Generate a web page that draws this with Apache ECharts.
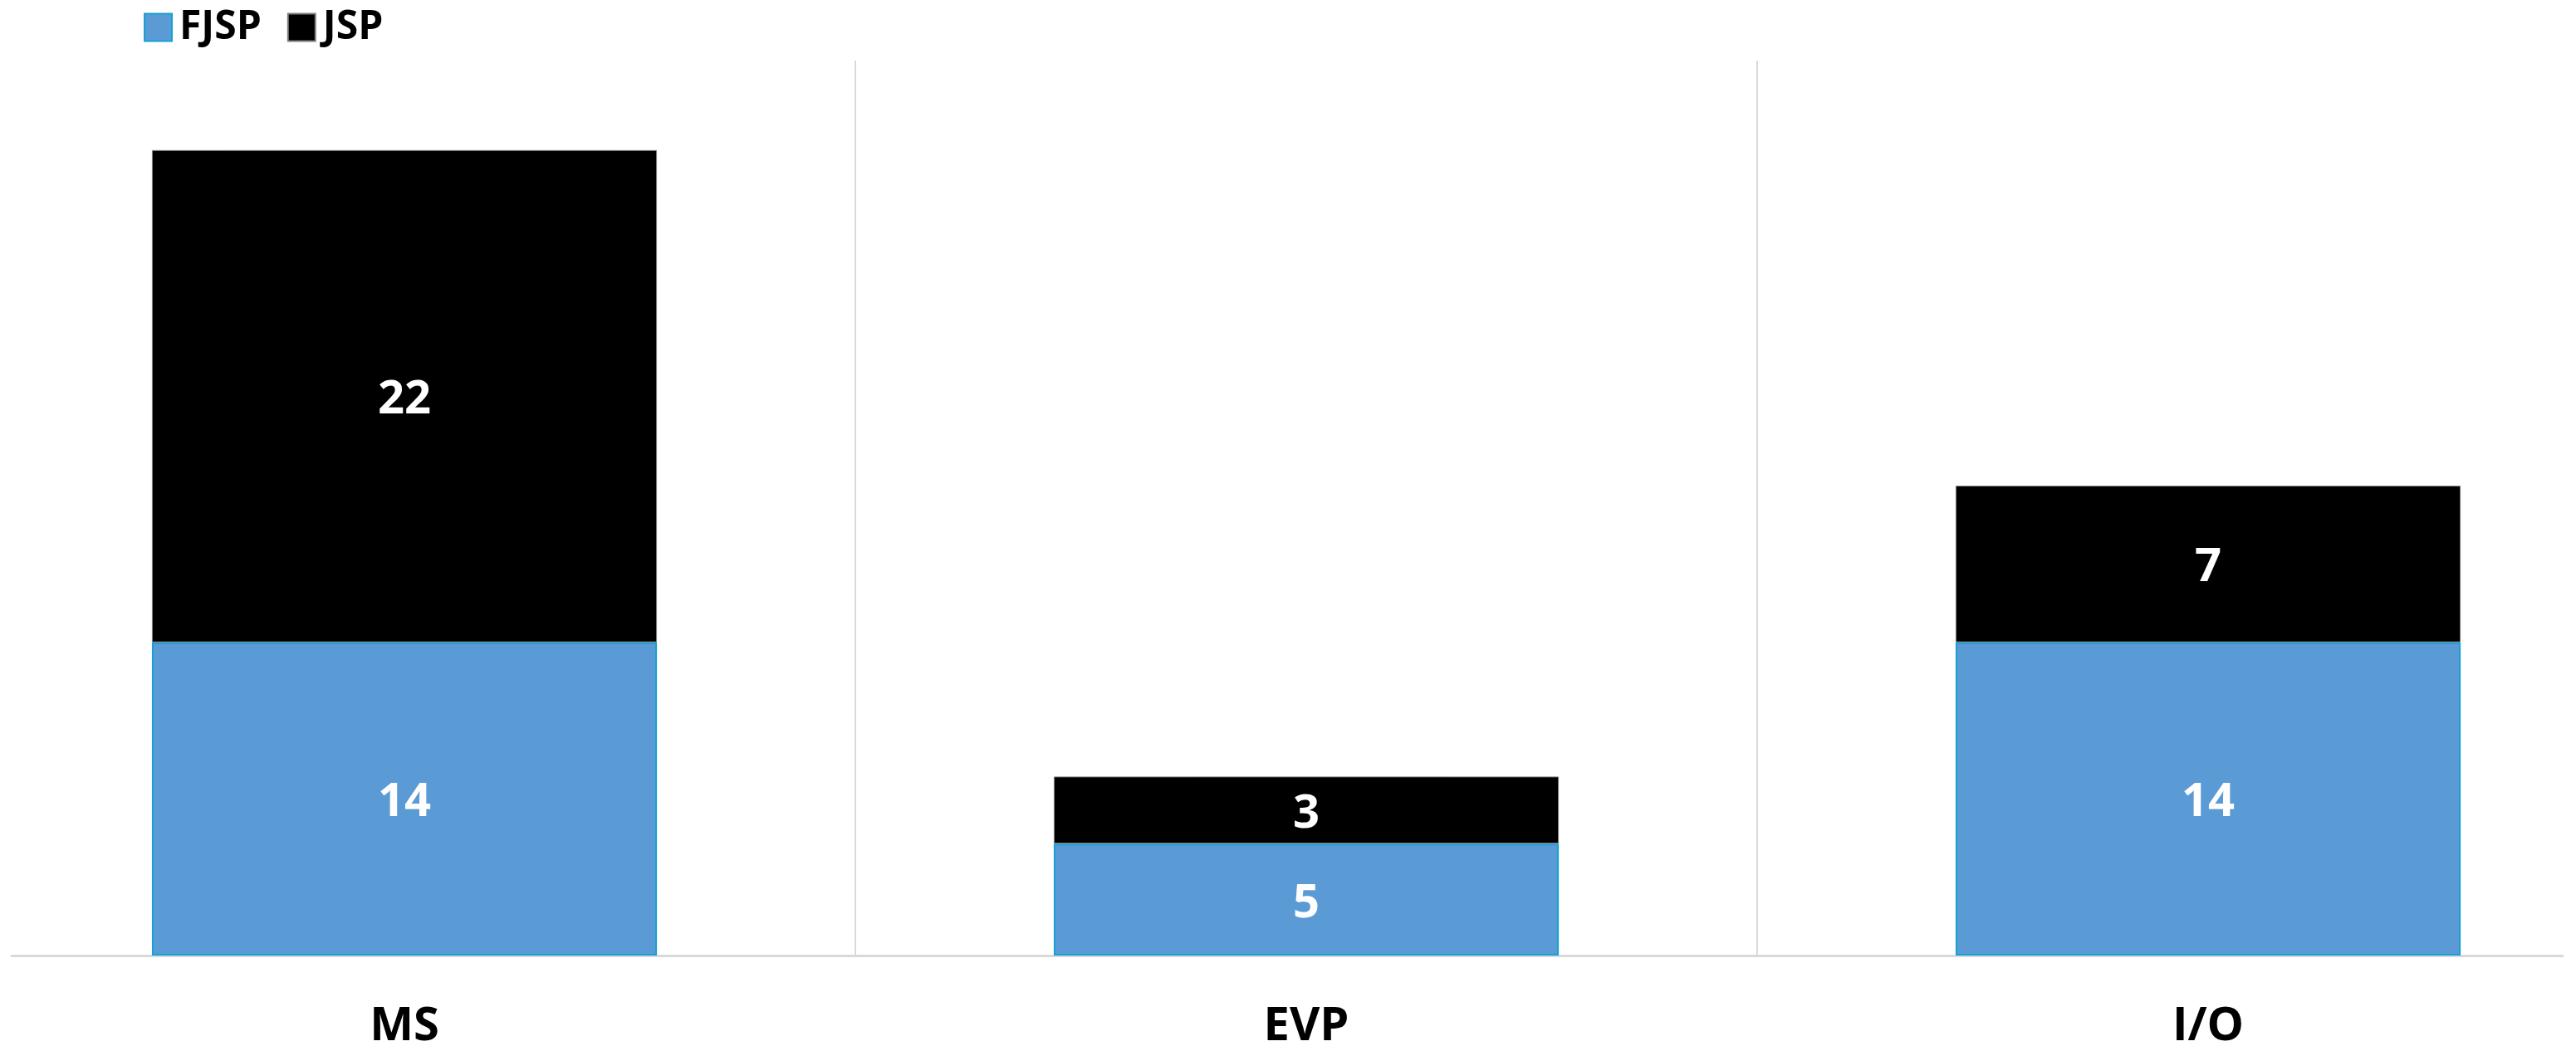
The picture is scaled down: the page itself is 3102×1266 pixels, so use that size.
<!DOCTYPE html>
<html>
<head>
<meta charset="utf-8">
<script src="https://cdn.jsdelivr.net/npm/echarts@6/dist/echarts.min.js"></script>
<style>
html,body{margin:0;padding:0;background:#fff;overflow:hidden;width:3102px;height:1266px;position:relative;}
#c{position:absolute;left:-56px;top:0;width:3258px;height:1266px;}
</style>
</head>
<body>
<div id="c"></div>
<script>
const categories = ['MS', 'EVP', 'I/O'];
const fjsp = [14, 5, 14];
const jsp = [22, 3, 7];
const seriesNames = ['FJSP', 'JSP'];

const FONT = '"Open Sans", "Liberation Sans", sans-serif';
const OFF = 56; // canvas is shifted left by this many px
const chart = echarts.init(document.getElementById('c'), null, {renderer: 'canvas'});
chart.setOption({
  backgroundColor: '#ffffff',
  animation: false,
  legend: {
    left: 168 + OFF, top: 4,
    icon: 'rect',
    itemWidth: 33, itemHeight: 33, itemGap: 31,
    textStyle: {fontFamily: FONT, fontWeight: 'bold', fontSize: 48, color: '#000', padding: [0, 0, 0, 4]},
    data: seriesNames
  },
  grid: [
    {left: 0, right: 0, top: 73, bottom: 115, containLabel: false},
    {left: 14 + OFF, right: 116, top: 73, bottom: 115, containLabel: false}
  ],
  xAxis: [
    {
      type: 'category', gridIndex: 0, data: categories,
      axisLine: {show: false}, axisTick: {show: false},
      splitLine: {show: true, lineStyle: {color: '#d9d9d9', width: 2}},
      axisLabel: {fontFamily: FONT, fontWeight: 'bold', fontSize: 56, color: '#000', margin: 58}
    },
    {
      type: 'category', gridIndex: 1, data: categories,
      axisLine: {show: true, lineStyle: {color: '#d9d9d9', width: 3}},
      axisTick: {show: false}, axisLabel: {show: false}, splitLine: {show: false}
    }
  ],
  yAxis: [
    {type: 'value', gridIndex: 0, min: 0, max: 40, show: false},
    {type: 'value', gridIndex: 1, min: 0, max: 40, show: false}
  ],
  series: [
    {
      name: seriesNames[0], type: 'bar', stack: 's', data: fjsp,
      barWidth: '56%',
      itemStyle: {color: '#5b9bd5', borderColor: '#16a0d6', borderWidth: 2},
      label: {show: true, position: 'inside', offset: [0, 5], color: '#fff', fontFamily: FONT, fontWeight: 'bold', fontSize: 56}
    },
    {
      name: seriesNames[1], type: 'bar', stack: 's', data: jsp,
      barWidth: '56%',
      itemStyle: {color: '#000000', borderColor: '#7f7f7f', borderWidth: 1},
      label: {show: true, position: 'inside', offset: [0, 5], color: '#fff', fontFamily: FONT, fontWeight: 'bold', fontSize: 56}
    }
  ]
});
</script>
</body>
</html>
